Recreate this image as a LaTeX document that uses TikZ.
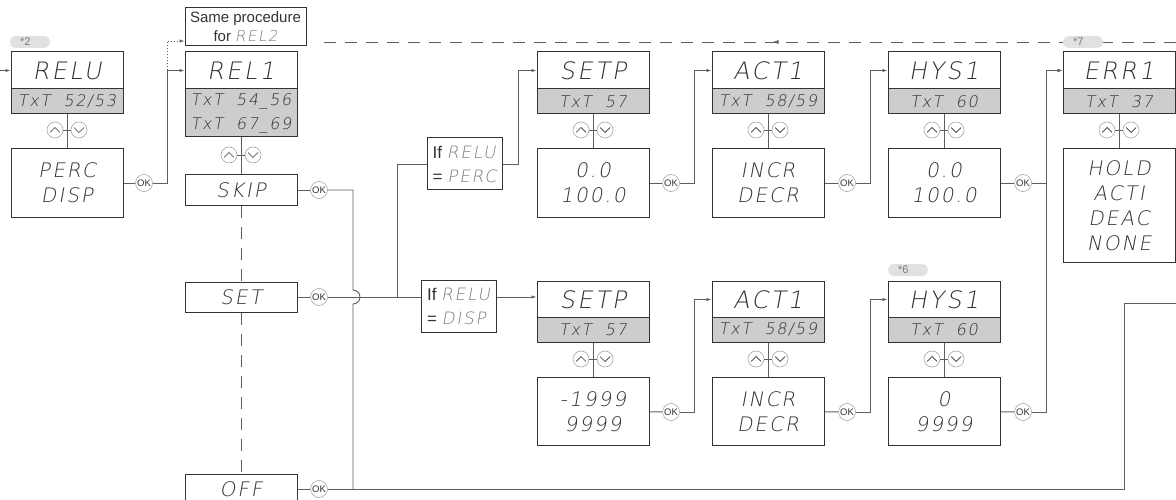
\documentclass[tikz,border=0pt]{standalone}
\usepackage{fontspec}
\setmainfont{Liberation Sans}
\IfFontExistsTF{DejaVu Sans ExtraLight}
  {\newfontfamily\lcd{DejaVu Sans ExtraLight}[FakeSlant=0.18, LetterSpace=10]}
  {\newfontfamily\lcd{DejaVu Sans Mono}[FakeSlant=0.18, LetterSpace=8]}
\usepackage{tikz}
\usetikzlibrary{calc,arrows.meta,decorations.markings}
\definecolor{dark}{HTML}{333333}
\definecolor{cifra}{HTML}{2E2E2E}
\definecolor{linea}{HTML}{5E5E5E}
\definecolor{grigio}{HTML}{CDCDCD}
\definecolor{nuvola}{HTML}{E1E1E1}
\definecolor{tenue}{HTML}{7A7A7A}

\begin{document}
\begin{tikzpicture}[x=1pt, y=-1pt,
  titolo/.style={draw=dark, line width=1pt, minimum width=112pt, minimum height=37pt,
    inner sep=0pt, text=cifra, font=\lcd\fontsize{24}{26}\selectfont},
  codice/.style={draw=dark, line width=1pt, fill=grigio, minimum width=112pt, minimum height=25pt,
    inner sep=0pt, align=center, text=cifra, font=\lcd\fontsize{16}{24}\selectfont},
  valore/.style={draw=dark, line width=1pt, minimum width=112pt, minimum height=68pt,
    inner sep=0pt, align=center, text=cifra, font=\lcd\fontsize{20}{25}\selectfont},
  scelta/.style={valore, minimum height=30pt},
  domanda/.style={draw=dark, line width=1pt, minimum width=75pt, minimum height=52pt,
    inner sep=4pt, align=left, text=dark, font=\fontsize{17}{24}\selectfont},
  ok/.style={circle, draw=linea!55, line width=0.6pt, minimum size=17pt, inner sep=0pt,
    text=dark, font=\fontsize{9.5}{10}\selectfont},
  su/.style={circle, draw=linea!55, line width=0.6pt, minimum size=16pt, inner sep=0pt,
    path picture={\draw[dark, line width=0.7pt]
      ($(path picture bounding box.center)+(-5,2.5)$) -- ++(5,-5) -- ++(5,5);}},
  giu/.style={circle, draw=linea!55, line width=0.6pt, minimum size=16pt, inner sep=0pt,
    path picture={\draw[dark, line width=0.7pt]
      ($(path picture bounding box.center)+(-5,-2.5)$) -- ++(5,5) -- ++(5,-5);}},
  nota/.style={fill=nuvola, rounded corners=5.5pt, minimum width=40pt, minimum height=12pt,
    inner sep=0pt, text width=20pt, align=left, text=tenue, font=\fontsize{11}{11}\selectfont},
  filo/.style={linea, line width=0.9pt},
  freccia/.style={filo, -{Latex[length=5pt, width=3.5pt]}},
  tratti/.style={filo, dash pattern=on 12pt off 9pt}]

  \useasboundingbox (0,0) rectangle (1176,500);
  \coordinate (ingresso) at (0,70.5);
  \coordinate (uscita) at (1176,303);
  \coordinate (ritorno) at (1176,42);
  \coordinate (ramo) at (397,297);

  % Display RELU
  \node[titolo] (relu) at (67,70.5) {RELU};
  \node[codice] (relucod) at (67,101.5) {TxT~~52/53};
  \node[valore] (reluval) at (67,183) {PERC\\DISP};
  \node[su] (relusu) at (55,130) {};
  \node[giu] (relugiu) at (79,130) {};
  \node[ok] (reluok) at (144,183) {OK};

  % Display REL1 e scelte
  \node[draw=dark, line width=1pt, minimum width=121pt, minimum height=38pt, align=center,
    inner sep=0pt, text=dark, font=\fontsize{15}{19}\selectfont] (stessa) at (245.5,27)
    {Same procedure\\for {\lcd\color{tenue}REL2}};
  \node[titolo] (rel1) at (241,70.5) {REL1};
  \node[codice, minimum height=48pt] (rel1cod) at (241,113) {TxT~~54\_56\\TxT~~67\_69};
  \node[su] (rel1su) at (229,155) {};
  \node[giu] (rel1giu) at (253,155) {};
  \node[scelta] (skip) at (241,190) {SKIP};
  \node[scelta] (set) at (241,297) {SET};
  \node[scelta] (off) at (241,489) {OFF};
  \node[ok] (skipok) at (319,190) {OK};
  \node[ok] (setok) at (319,297) {OK};
  \node[ok] (offok) at (319,489) {OK};

  % Condizioni
  \node[domanda] (seperc) at (464.5,164)
    {If {\lcd\color{tenue}RELU}\\= {\lcd\color{tenue}PERC}};
  \node[domanda] (sedisp) at (458.5,306.5)
    {If {\lcd\color{tenue}RELU}\\= {\lcd\color{tenue}DISP}};

  % Riga alta
  \node[titolo] (setpa) at (593,70.5) {SETP};
  \node[codice] (setpacod) at (593,101.5) {TxT~~57};
  \node[valore] (setpaval) at (593,183) {0.0\\100.0};
  \node[su] (setpasu) at (581,130) {};
  \node[giu] (setpagiu) at (605,130) {};
  \node[ok] (setpaok) at (671,183) {OK};

  \node[titolo] (act1a) at (768,70.5) {ACT1};
  \node[codice] (act1acod) at (768,101.5) {TxT~~58/59};
  \node[valore] (act1aval) at (768,183) {INCR\\DECR};
  \node[su] (act1asu) at (756,130) {};
  \node[giu] (act1agiu) at (780,130) {};
  \node[ok] (act1aok) at (847,183) {OK};

  \node[titolo] (hys1a) at (944,70.5) {HYS1};
  \node[codice] (hys1acod) at (944,101.5) {TxT~~60};
  \node[valore] (hys1aval) at (944,183) {0.0\\100.0};
  \node[su] (hys1asu) at (932,130) {};
  \node[giu] (hys1agiu) at (956,130) {};
  \node[ok] (hys1aok) at (1023,183) {OK};

  \node[titolo] (err1) at (1119,70.5) {ERR1};
  \node[codice] (err1cod) at (1119,101.5) {TxT~~37};
  \node[valore, minimum height=113pt] (err1val) at (1119,205.5) {HOLD\\ACTI\\DEAC\\NONE};
  \node[su] (err1su) at (1107,130) {};
  \node[giu] (err1giu) at (1131,130) {};

  % Riga bassa
  \node[titolo] (setpb) at (593,299.5) {SETP};
  \node[codice] (setpbcod) at (593,329.5) {TxT~~57};
  \node[valore] (setpbval) at (593,411.5) {-1999\\9999};
  \node[su] (setpbsu) at (581,359) {};
  \node[giu] (setpbgiu) at (605,359) {};
  \node[ok] (setpbok) at (671,412) {OK};

  \node[titolo] (act1b) at (768,299.5) {ACT1};
  \node[codice] (act1bcod) at (768,329.5) {TxT~~58/59};
  \node[valore] (act1bval) at (768,411.5) {INCR\\DECR};
  \node[su] (act1bsu) at (756,359) {};
  \node[giu] (act1bgiu) at (780,359) {};
  \node[ok] (act1bok) at (847,412) {OK};

  \node[titolo] (hys1b) at (944,299.5) {HYS1};
  \node[codice] (hys1bcod) at (944,329.5) {TxT~~60};
  \node[valore] (hys1bval) at (944,411.5) {0\\9999};
  \node[su] (hys1bsu) at (932,359) {};
  \node[giu] (hys1bgiu) at (956,359) {};
  \node[ok] (hys1bok) at (1023,412) {OK};

  % Tasti su/giu
  \draw[filo] (relucod) -- (reluval);
  \draw[filo] (relusu) -- (relugiu);
  \draw[filo] (rel1cod) -- (skip);
  \draw[filo] (rel1su) -- (rel1giu);
  \draw[filo] (setpacod) -- (setpaval);
  \draw[filo] (setpasu) -- (setpagiu);
  \draw[filo] (act1acod) -- (act1aval);
  \draw[filo] (act1asu) -- (act1agiu);
  \draw[filo] (hys1acod) -- (hys1aval);
  \draw[filo] (hys1asu) -- (hys1agiu);
  \draw[filo] (err1cod) -- (err1val);
  \draw[filo] (err1su) -- (err1giu);
  \draw[filo] (setpbcod) -- (setpbval);
  \draw[filo] (setpbsu) -- (setpbgiu);
  \draw[filo] (act1bcod) -- (act1bval);
  \draw[filo] (act1bsu) -- (act1bgiu);
  \draw[filo] (hys1bcod) -- (hys1bval);
  \draw[filo] (hys1bsu) -- (hys1bgiu);

  % Collegamenti OK
  \draw[freccia] (ingresso) -- (relu);
  \draw[filo] (reluval) -- (reluok);
  \draw[freccia] (reluok) -- ++(23,0) coordinate (bivio) |- (rel1);
  \draw[filo, dash pattern=on 1.5pt off 1.5pt, -{Latex[length=5pt, width=3.5pt]}]
    (bivio |- rel1) |- ($(stessa.west)+(0,14)$);
  \draw[tratti] (skip) -- (set);
  \draw[tratti] (set) -- (off);
  \draw[filo] (skip) -- (skipok);
  \draw[filo] (set) -- (setok);
  \draw[filo] (off) -- (offok);
  \draw[filo] (skipok) -- (353,190) -- (353,290) arc[start angle=-90, end angle=90, radius=7]
    -- (353,489);
  \draw[filo] (offok) -- (1124,489) |- (uscita);
  \draw[filo] (setok) -- (setok -| sedisp.west);
  \draw[filo] (ramo) |- (seperc);
  \draw[freccia] (seperc) -- ++(53.5,0) |- (setpa);
  \draw[freccia] (sedisp.east |- setok) -- (setpb.west |- setok);

  \draw[filo] (setpaval) -- (setpaok);
  \draw[freccia] (setpaok) -- ++(23,0) |- (act1a);
  \draw[filo] (act1aval) -- (act1aok);
  \draw[freccia] (act1aok) -- ++(23,0) |- (hys1a);
  \draw[filo] (hys1aval) -- (hys1aok);
  \draw[freccia] (hys1aok) -- ++(23,0) |- (err1);

  \draw[filo] (setpbval) -- (setpbok);
  \draw[freccia] (setpbok) -- ++(23,0) |- (act1b);
  \draw[filo] (act1bval) -- (act1bok);
  \draw[freccia] (act1bok) -- ++(23,0) |- (hys1b);
  \draw[filo] (hys1bval) -- (hys1bok);
  \draw[freccia] (hys1bok) -- ++(23,0) |- (err1);

  % Ritorno tratteggiato
  \draw[tratti, postaction={solid, decorate}, decoration={markings,
    mark=at position 0.47 with {\arrow{Latex[length=6pt, width=4pt]}}}]
    (ritorno) -- ($(stessa.east |- ritorno)+(11,0)$);

  % Note
  \node[nota] (nota2) at (30,42) {*2};
  \node[nota] (nota7) at (1083,42) {*7};
  \node[nota] (nota6) at (908,270) {*6};
\end{tikzpicture}
\end{document}
